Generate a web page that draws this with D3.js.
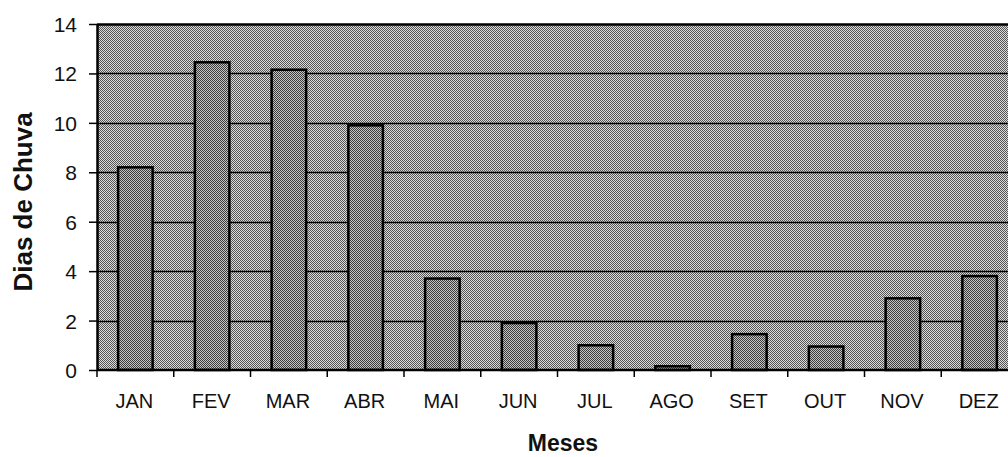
<!DOCTYPE html>
<html>
<head>
<meta charset="utf-8">
<script src="https://cdn.jsdelivr.net/npm/d3@7"></script>
<style>
  body { margin: 0; background: #fff; }
  svg { display: block; font-family: "Liberation Sans", Arial, sans-serif; }
</style>
</head>
<body>
<svg id="chart" width="1008" height="457"></svg>
<script>
// monthly rainy days
var months = ["JAN", "FEV", "MAR", "ABR", "MAI", "JUN", "JUL", "AGO", "SET", "OUT", "NOV", "DEZ"];
var rainDays = [8.2, 12.45, 12.15, 9.9, 3.7, 1.9, 1.0, 0.15, 1.45, 0.95, 2.9, 3.8];
var yTicks = [0, 2, 4, 6, 8, 10, 12, 14];

var svg = d3.select("#chart");
var plotL = 97, plotR = 1018, plotT = 24, plotB = 370;

var x = d3.scaleBand().domain(months).range([plotL, plotR]).paddingInner(0.55).paddingOuter(0.275);
var xEdge = d3.scaleBand().domain(months).range([plotL, plotR]);
var y = d3.scaleLinear().domain([0, 14]).range([plotB, plotT]);

// dithered grey look like the scanned original
var defs = svg.append("defs");
var pat = defs.append("pattern").attr("id", "dither")
  .attr("patternUnits", "userSpaceOnUse").attr("width", 2).attr("height", 2);
pat.append("rect").attr("width", 2).attr("height", 2).attr("fill", "#dcdcdc");
pat.append("rect").attr("width", 1).attr("height", 1).attr("fill", "#555");
pat.append("rect").attr("x", 1).attr("y", 1).attr("width", 1).attr("height", 1).attr("fill", "#555");

var pat2 = defs.append("pattern").attr("id", "dither2")
  .attr("patternUnits", "userSpaceOnUse").attr("width", 2).attr("height", 2);
pat2.append("rect").attr("width", 2).attr("height", 2).attr("fill", "#c4c4c4");
pat2.append("rect").attr("width", 1).attr("height", 1).attr("fill", "#3c3c3c");
pat2.append("rect").attr("x", 1).attr("y", 1).attr("width", 1).attr("height", 1).attr("fill", "#3c3c3c");

svg.append("rect")
  .attr("x", plotL).attr("y", plotT)
  .attr("width", plotR - plotL).attr("height", plotB - plotT)
  .attr("fill", "url(#dither)");

// gridlines
svg.append("g").selectAll("line")
  .data(yTicks.filter(function (d) { return d > 0; }))
  .enter().append("line")
  .attr("x1", plotL).attr("x2", plotR)
  .attr("y1", function (d) { return Math.round(y(d)) + 0.5; })
  .attr("y2", function (d) { return Math.round(y(d)) + 0.5; })
  .attr("stroke", "#000")
  .attr("stroke-width", function (d) { return d === 14 ? 2.5 : 1.5; });

// bars
svg.append("g").selectAll("rect")
  .data(rainDays)
  .enter().append("rect")
  .attr("x", function (d, i) { return x(months[i]); })
  .attr("y", function (d) { return y(d); })
  .attr("width", x.bandwidth())
  .attr("height", function (d) { return y(0) - y(d); })
  .attr("fill", "url(#dither2)")
  .attr("stroke", "#000")
  .attr("stroke-width", 2.5);

// y axis
var yAxis = svg.append("g")
  .attr("transform", "translate(" + plotL + ",0)")
  .call(d3.axisLeft(y).tickValues(yTicks).tickSize(8).tickSizeOuter(0));
yAxis.attr("font-size", 21).attr("font-family", "Liberation Sans, Arial, sans-serif");
yAxis.select(".domain").attr("stroke", "#000").attr("stroke-width", 2.5);
yAxis.selectAll(".tick line").attr("stroke", "#000").attr("stroke-width", 1.5);
yAxis.selectAll(".tick text").attr("x", -20).attr("fill", "#111").attr("dy", "0.36em");

// x axis: ticks at category boundaries
var xg = svg.append("g").attr("transform", "translate(0," + plotB + ")");
xg.append("line").attr("x1", plotL).attr("x2", plotR).attr("stroke", "#000").attr("stroke-width", 2.5);
xg.selectAll("line.tk")
  .data(months)
  .enter().append("line").attr("class", "tk")
  .attr("x1", function (d) { return xEdge(d); })
  .attr("x2", function (d) { return xEdge(d); })
  .attr("y1", 0).attr("y2", 7)
  .attr("stroke", "#000").attr("stroke-width", 1.5);
xg.selectAll("text")
  .data(months)
  .enter().append("text")
  .attr("x", function (d) { return xEdge(d) + xEdge.bandwidth() / 2 - 1; })
  .attr("y", 38)
  .attr("text-anchor", "middle")
  .attr("font-size", 20)
  .attr("fill", "#111")
  .text(function (d) { return d; });

// axis titles
svg.append("text")
  .attr("transform", "translate(32,202) rotate(-90)")
  .attr("text-anchor", "middle")
  .attr("font-size", 26).attr("font-weight", "bold").attr("fill", "#111")
  .text("Dias de Chuva");
svg.append("text")
  .attr("x", 563).attr("y", 451)
  .attr("text-anchor", "middle")
  .attr("font-size", 23).attr("font-weight", "bold").attr("fill", "#111")
  .text("Meses");
</script>
</body>
</html>
